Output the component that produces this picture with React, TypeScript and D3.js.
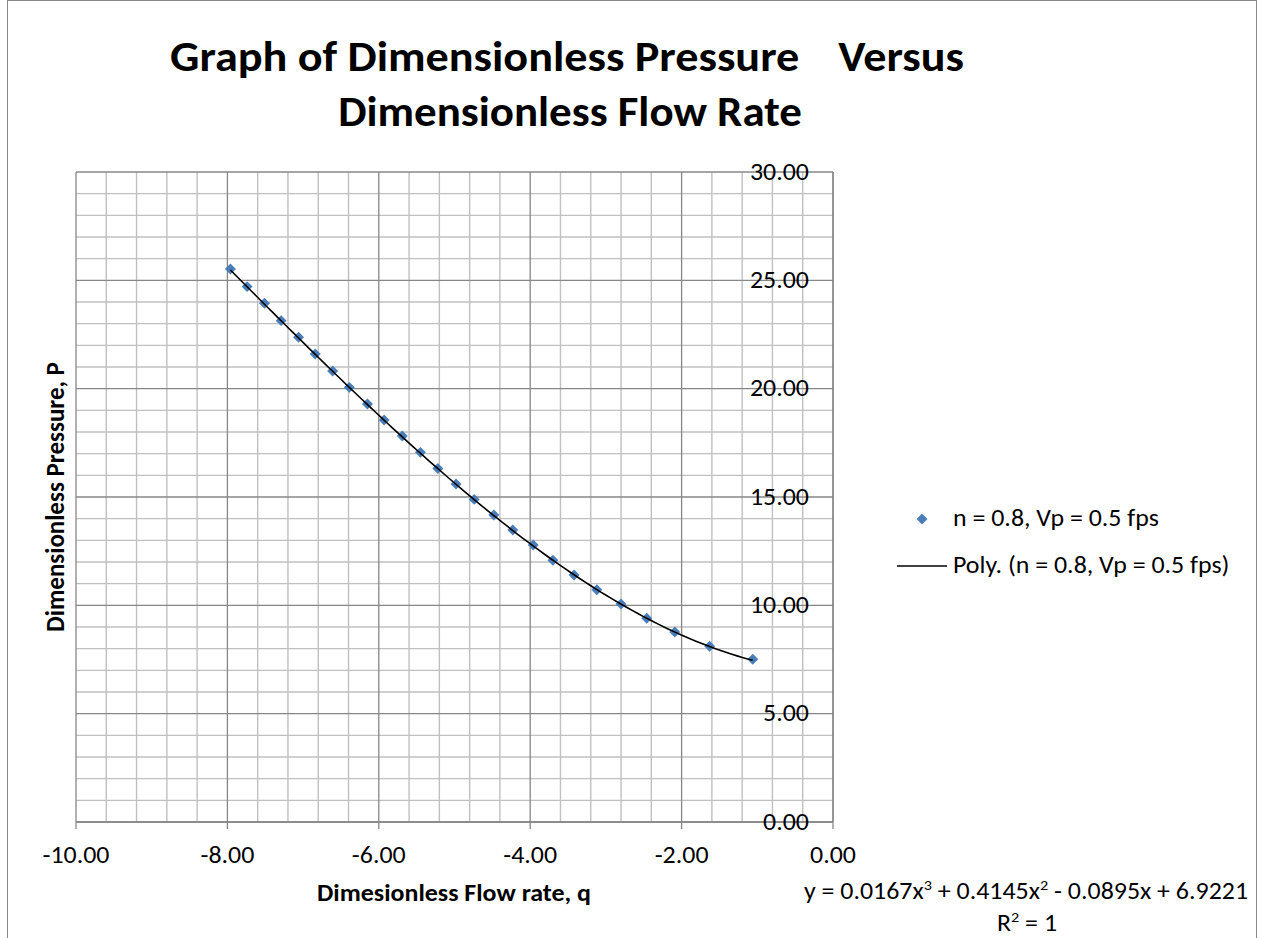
import * as d3 from 'd3'

// series
const flowRate = [-7.96, -7.74, -7.51, -7.29, -7.06, -6.84, -6.61, -6.39, -6.15, -5.93, -5.69, -5.45, -5.22, -4.98, -4.74, -4.48, -4.23, -3.96, -3.70, -3.42, -3.12, -2.80, -2.46, -2.09, -1.63, -1.06]
const pressure = [25.52, 24.71, 23.94, 23.14, 22.37, 21.60, 20.82, 20.06, 19.29, 18.55, 17.82, 17.06, 16.32, 15.60, 14.89, 14.17, 13.48, 12.78, 12.08, 11.40, 10.72, 10.06, 9.40, 8.77, 8.11, 7.51]

// trendline coefficients as printed on the chart (x^3, x^2, x, c)
const polyCoef = [0.0167, 0.4145, -0.0895, 6.9221]

const xTicks = [-10, -8, -6, -4, -2, 0]
const yTicks = [0, 5, 10, 15, 20, 25, 30]

const seriesName = 'n = 0.8, Vp = 0.5 fps'

const FONT = 'Carlito, Calibri, Lato, sans-serif'
const SX = 1.08 // text in the picture is a bit wider than the font

// place text with a small horizontal stretch
const at = (x: number, y: number, sx = SX) => `translate(${x},${y}) scale(${sx},1)`

export default function App() {
  const width = 1262
  const height = 938
  const plot = { left: 76, right: 833, top: 172, bottom: 822 }

  const x = d3.scaleLinear().domain([-10, 0]).range([plot.left, plot.right])
  const y = d3.scaleLinear().domain([0, 30]).range([plot.bottom, plot.top])
  const fmt = (v: number) => d3.format('.2f')(v).replace('\u2212', '-')

  // minor grid every 0.4 on x and every 1 on y
  const xMinor = d3.range(0, 26).map(i => -10 + i * 0.4)
  const yMinor = d3.range(0, 31)

  const points = flowRate.map((q, i) => ({ q, p: pressure[i] }))

  const poly = (q: number) => polyCoef[0] * q * q * q + polyCoef[1] * q * q + polyCoef[2] * q + polyCoef[3]
  const qMin = d3.min(flowRate) as number
  const qMax = d3.max(flowRate) as number
  const trend = d3.range(0, 101).map(i => {
    const q = qMin + (qMax - qMin) * i / 100
    return [q, poly(q)] as [number, number]
  })
  const trendPath = d3.line<[number, number]>()
    .x(d => x(d[0]))
    .y(d => y(d[1]))(trend)

  const diamond = d3.symbol().type(d3.symbolSquare).size(60)() as string

  return (
    <svg width={width} height={height} style={{ position: 'absolute', left: 0, top: 0, background: '#fff' }} fontFamily={FONT}>
      <rect x={7.5} y={0.5} width={1249} height={960} fill='#fff' stroke='#898989' strokeWidth={1} />

      {/* title */}
      <text transform={at(567, 71, 1.1)} textAnchor='middle' fontSize={42} fontWeight='bold'>
        Graph of Dimensionless Pressure <tspan dx={26}> Versus</tspan>
      </text>
      <text transform={at(570, 126, 1.07)} textAnchor='middle' fontSize={42} fontWeight='bold'>Dimensionless Flow Rate</text>

      {/* grid */}
      <g>
        {xMinor.map((v, i) => i % 5 !== 0 && (
          <line key={'xm' + i} x1={x(v)} x2={x(v)} y1={plot.top} y2={plot.bottom} stroke='#c0c0c0' strokeWidth={1.4} />
        ))}
        {yMinor.map((v, i) => i % 5 !== 0 && (
          <line key={'ym' + i} x1={plot.left} x2={plot.right} y1={y(v)} y2={y(v)} stroke='#c0c0c0' strokeWidth={1.4} />
        ))}
        {xTicks.map(v => (
          <line key={'xM' + v} x1={x(v)} x2={x(v)} y1={plot.top} y2={plot.bottom + 7} stroke='#878787' strokeWidth={1.3} />
        ))}
        {yTicks.map(v => (
          <line key={'yM' + v} x1={plot.left} x2={plot.right} y1={y(v)} y2={y(v)} stroke='#878787' strokeWidth={1.3} />
        ))}
      </g>

      {/* axes */}
      <line x1={plot.left} x2={plot.right} y1={plot.bottom} y2={plot.bottom} stroke='#868686' strokeWidth={1.3} />
      <line x1={plot.right} x2={plot.right} y1={plot.top} y2={plot.bottom} stroke='#868686' strokeWidth={1.3} />

      {xTicks.map(v => (
        <text key={'xl' + v} transform={at(x(v), 863)} textAnchor='middle' fontSize={24}>{fmt(v)}</text>
      ))}
      {yTicks.map(v => (
        <text key={'yl' + v} transform={at(809, y(v) + 7.5)} textAnchor='end' fontSize={24}>{fmt(v)}</text>
      ))}

      {/* axis titles */}
      <text transform={at(454, 901)} textAnchor='middle' fontSize={24} fontWeight='bold'>Dimesionless Flow rate, q</text>
      <text transform={`translate(64,497) rotate(-90) scale(1,${SX})`} textAnchor='middle' fontSize={25} fontWeight='bold'>Dimensionless Pressure, P</text>

      {/* series */}
      {points.map((d, i) => (
        <path key={'pt' + i} d={diamond} transform={`translate(${x(d.q)},${y(d.p)}) rotate(45)`} fill='#4a7ebb' />
      ))}
      <path d={trendPath as string} fill='none' stroke='#000' strokeWidth={1.6} />

      {/* legend */}
      <path d={diamond} transform='translate(922,519) rotate(45)' fill='#4a7ebb' />
      <text transform={at(953, 526)} fontSize={24}>{seriesName}</text>
      <line x1={897} x2={947} y1={566} y2={566} stroke='#000' strokeWidth={1.6} />
      <text transform={at(953, 573)} fontSize={24}>{`Poly. (${seriesName})`}</text>

      {/* trendline equation */}
      <text transform={at(1026, 899)} textAnchor='middle' fontSize={24}>
        y = 0.0167x<tspan dy={-9} fontSize={15}>3</tspan><tspan dy={9}> + 0.4145x</tspan><tspan dy={-9} fontSize={15}>2</tspan><tspan dy={9}> - 0.0895x + 6.9221</tspan>
      </text>
      <text transform={at(1027, 931)} textAnchor='middle' fontSize={24}>
        R<tspan dy={-9} fontSize={15}>2</tspan><tspan dy={9}> = 1</tspan>
      </text>
    </svg>
  )
}
